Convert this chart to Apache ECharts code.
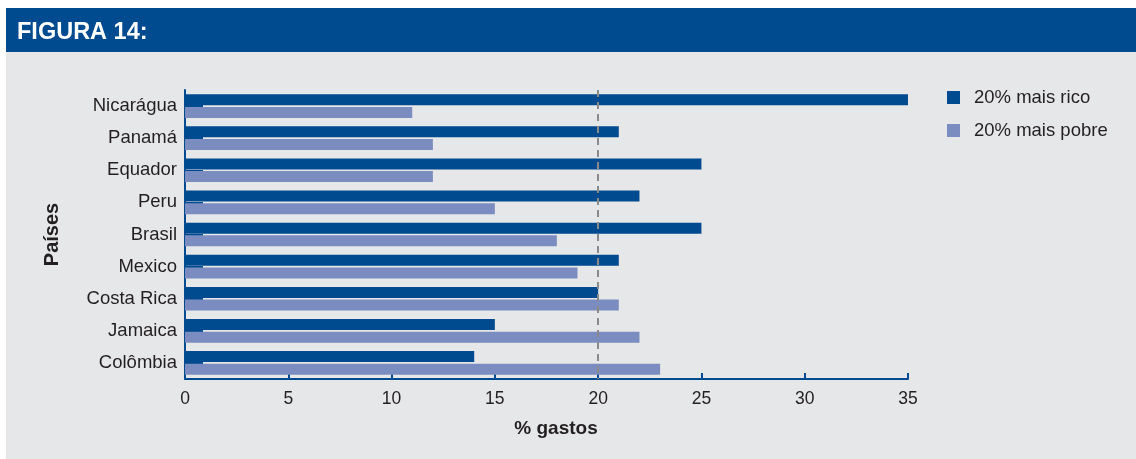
<!DOCTYPE html>
<html>
<head>
<meta charset="utf-8">
<script src="https://cdn.jsdelivr.net/npm/echarts@6/dist/echarts.min.js"></script>
<style>
  html, body { margin: 0; padding: 0; background: #ffffff; }
  #chart { width: 1136px; height: 459px; }
</style>
</head>
<body>
<div id="chart"></div>
<script>
// Share of spending by income group, per country
const countries = ['Nicarágua', 'Panamá', 'Equador', 'Peru', 'Brasil', 'Mexico', 'Costa Rica', 'Jamaica', 'Colômbia'];
const richest20 = [35, 21, 25, 22, 25, 21, 20, 15, 14];
const poorest20 = [11, 12, 12, 15, 18, 19, 21, 22, 23];
const seriesNames = ['20% mais rico', '20% mais pobre'];
const xTicks = { min: 0, max: 35, interval: 5 };
const referenceLine = 20;

const DARK = '#004a8f';
const LIGHT = '#7b8dc0';
const PANEL = '#e6e7e9';
const TEXT = '#231f20';
const FONT = 'Liberation Sans, Arial, Helvetica, sans-serif';

const chart = echarts.init(document.getElementById('chart'), null, { renderer: 'canvas' });

chart.setOption({
  animation: false,
  backgroundColor: '#ffffff',
  textStyle: { fontFamily: FONT, color: TEXT },
  graphic: [
    { type: 'rect', z: -10, shape: { x: 6, y: 52, width: 1130, height: 407 }, style: { fill: PANEL } },
    { type: 'rect', z: -10, shape: { x: 6, y: 8, width: 1130, height: 44 }, style: { fill: DARK } }
  ],
  title: {
    text: 'FIGURA 14:',
    left: 12, top: 16,
    textStyle: { color: '#ffffff', fontSize: 23.5, fontWeight: 'bold', fontFamily: FONT }
  },
  legend: {
    orient: 'vertical',
    left: 942, top: 83,
    itemWidth: 13, itemHeight: 13, itemGap: 14,
    icon: 'rect',
    data: seriesNames,
    textStyle: { fontSize: 18.5, color: TEXT, fontFamily: FONT, padding: [0, 0, 0, 9] }
  },
  grid: { left: 185, right: 228, top: 90, bottom: 80, containLabel: false },
  xAxis: {
    type: 'value',
    min: xTicks.min, max: xTicks.max, interval: xTicks.interval,
    name: '% gastos',
    nameLocation: 'middle',
    nameGap: 40,
    nameTextStyle: { fontSize: 19, fontWeight: 'bold', color: TEXT, padding: [0, 0, 0, 19] },
    axisLine: { show: true, lineStyle: { color: DARK, width: 2 } },
    axisTick: { show: true, inside: true, length: 6, lineStyle: { color: DARK, width: 2 } },
    axisLabel: { fontSize: 17.5, color: TEXT, margin: 11 },
    splitLine: { show: false }
  },
  yAxis: {
    type: 'category',
    inverse: true,
    data: countries,
    name: 'Países',
    nameLocation: 'middle',
    nameGap: 123,
    nameRotate: 90,
    nameTextStyle: { fontSize: 20, fontWeight: 'bold', color: TEXT },
    axisLine: { show: true, lineStyle: { color: DARK, width: 2 } },
    axisTick: { show: true, inside: true, alignWithLabel: true, length: 18, lineStyle: { color: DARK, width: 2 } },
    axisLabel: { fontSize: 18.5, color: TEXT, margin: 8 },
    splitLine: { show: false }
  },
  series: [
    {
      name: seriesNames[0],
      type: 'bar',
      data: richest20,
      barWidth: 11,
      barGap: '15%',
      itemStyle: { color: DARK },
      markLine: {
        silent: true,
        symbol: 'none',
        label: { show: false },
        lineStyle: { color: '#8a8a8a', type: [7, 5], width: 2 },
        data: [{ xAxis: referenceLine }]
      }
    },
    {
      name: seriesNames[1],
      type: 'bar',
      data: poorest20,
      barWidth: 11,
      itemStyle: { color: LIGHT }
    }
  ]
});
</script>
</body>
</html>
